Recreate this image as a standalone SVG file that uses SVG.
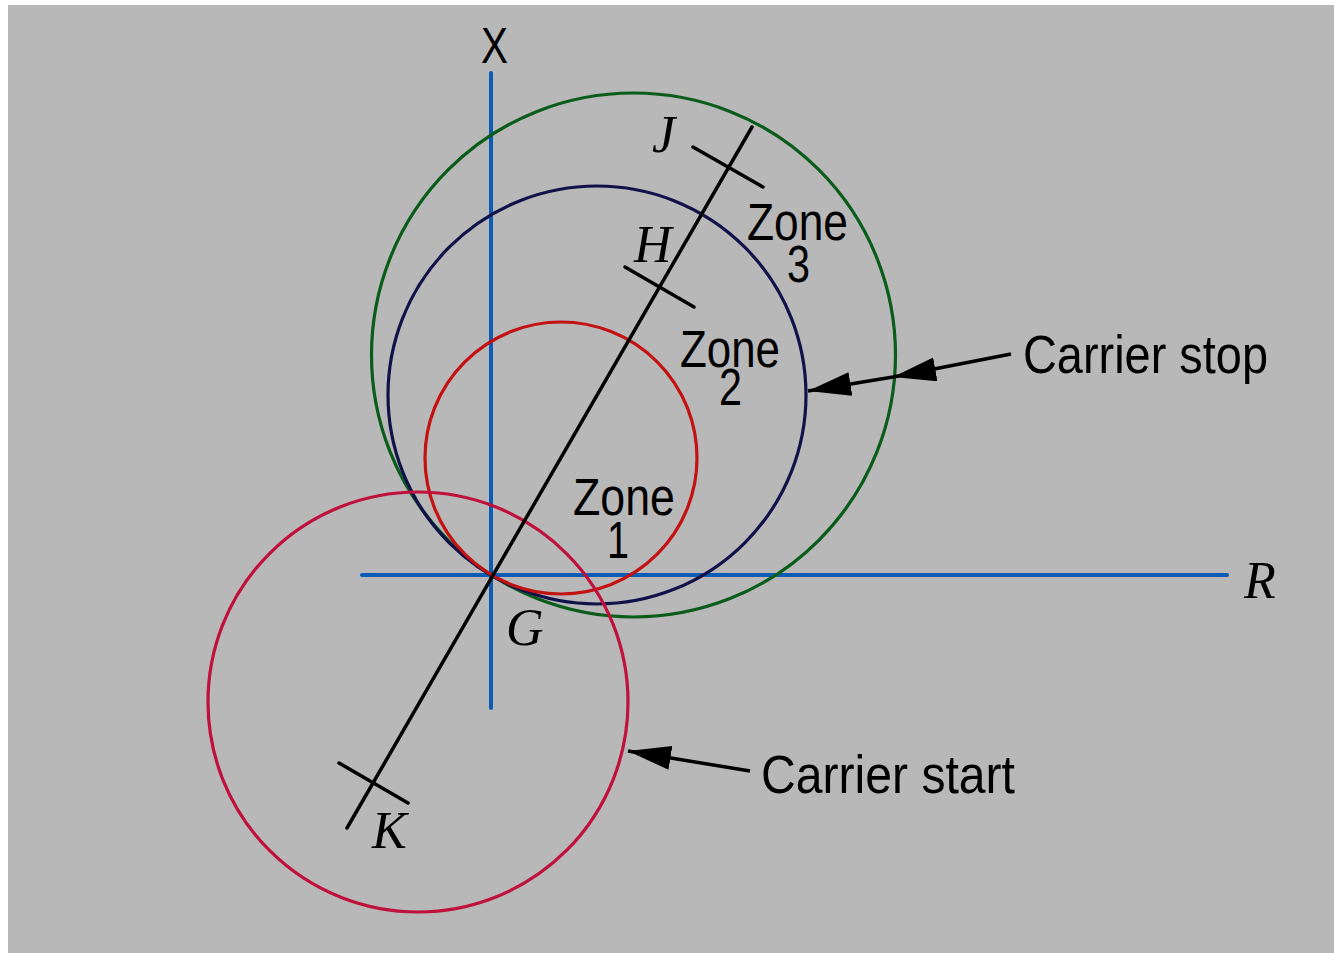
<svg xmlns="http://www.w3.org/2000/svg" width="1334" height="953" viewBox="0 0 1334 953">
<style>
.circ{fill:none;stroke-width:3.2}
.axis{stroke:#0a5cb4;stroke-width:4;stroke-linecap:round;fill:none}
.blk{stroke:#000;stroke-width:3.5;stroke-linecap:round;fill:none}
.lead{stroke:#000;stroke-width:3.5;fill:none}
.sans{font-family:"Liberation Sans",Arial,sans-serif;fill:#000}
.ital{font-family:"Liberation Serif","Times New Roman",serif;font-style:italic;fill:#000;font-size:52px}
</style>
<defs>
<marker id="ah" markerUnits="userSpaceOnUse" markerWidth="46" markerHeight="26" refX="43" refY="12" orient="auto">
<path d="M0,0 L43,12 L0,24 Z" fill="#000"/>
</marker>
</defs>
<rect x="0" y="0" width="1334" height="953" fill="#ffffff"/>
<rect x="8" y="5" width="1326" height="948" fill="#b8b8b8"/>

<g id="axes">
<line class="axis" x1="491" y1="73" x2="491" y2="708"/>
<line class="axis" x1="362" y1="575" x2="1227" y2="575"/>
</g>

<g id="circle-zone3"><circle class="circ" cx="633.5" cy="355" r="262" stroke="#0a5c1a"/></g>
<g id="circle-zone2"><circle class="circ" cx="597" cy="395" r="209" stroke="#12124a"/></g>
<g id="circle-zone1"><circle class="circ" cx="561" cy="458" r="136" stroke="#c41212"/></g>
<g id="circle-start"><circle class="circ" cx="418" cy="702" r="210" stroke="#c0103c"/></g>

<g id="line-JK">
<line class="blk" x1="752" y1="127" x2="347" y2="828"/>
<line class="blk" x1="693" y1="147" x2="763" y2="187"/>
<line class="blk" x1="625" y1="267" x2="694" y2="307"/>
<line class="blk" x1="339" y1="763" x2="408" y2="803"/>
</g>

<g id="connectors">
<path class="lead" d="M1011,354 L893,377 L808,391" marker-mid="url(#ah)" marker-end="url(#ah)"/>
<path class="lead" d="M750,771 L628,751" marker-end="url(#ah)"/>
</g>

<g id="labels">
<text class="sans" x="481" y="63" font-size="50" textLength="27" lengthAdjust="spacingAndGlyphs">X</text>
<text class="ital" x="652" y="152">J</text>
<text class="ital" x="634" y="262">H</text>
<text class="ital" x="506" y="645">G</text>
<text class="ital" x="1244" y="598">R</text>
<text class="ital" x="372" y="848">K</text>
</g>

<g id="zone3-label">
<text class="sans" font-size="51"><tspan x="747" y="240" textLength="101" lengthAdjust="spacingAndGlyphs">Zone</tspan><tspan x="787" y="282" textLength="23" lengthAdjust="spacingAndGlyphs">3</tspan></text>
</g>
<g id="zone2-label">
<text class="sans" font-size="51"><tspan x="680" y="367" textLength="100" lengthAdjust="spacingAndGlyphs">Zone</tspan><tspan x="719" y="405" textLength="23" lengthAdjust="spacingAndGlyphs">2</tspan></text>
</g>
<g id="zone1-label">
<text class="sans" font-size="51"><tspan x="573" y="515" textLength="102" lengthAdjust="spacingAndGlyphs">Zone</tspan><tspan x="607" y="558" textLength="22" lengthAdjust="spacingAndGlyphs">1</tspan></text>
</g>
<g id="carrier-stop-label">
<text class="sans" x="1023" y="373" font-size="53" textLength="245" lengthAdjust="spacingAndGlyphs">Carrier stop</text>
</g>
<g id="carrier-start-label">
<text class="sans" x="761" y="793" font-size="53" textLength="254" lengthAdjust="spacingAndGlyphs">Carrier start</text>
</g>
</svg>
